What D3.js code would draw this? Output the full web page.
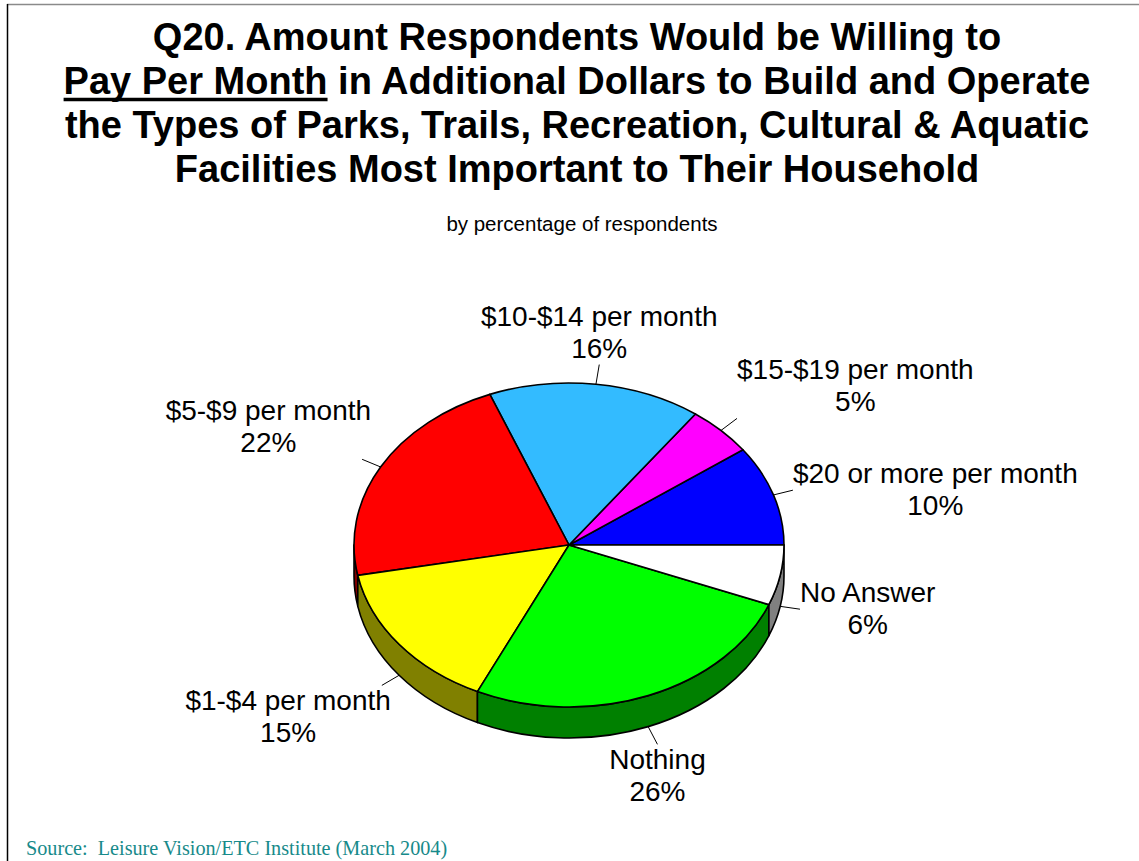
<!DOCTYPE html>
<html>
<head>
<meta charset="utf-8">
<script src="https://cdn.jsdelivr.net/npm/d3@7"></script>
<style>
  html, body { margin: 0; padding: 0; background: #ffffff; }
  svg { display: block; }
</style>
</head>
<body>
<svg id="chart" width="1139" height="861"></svg>
<script>
// Survey answers (Q20) and their share of respondents, in pie order
const categories = ["$20 or more per month", "$15-$19 per month", "$10-$14 per month",
                    "$5-$9 per month", "$1-$4 per month", "Nothing", "No Answer"];
const percents = [10, 5, 16, 22, 15, 26, 6];

const titleLines = [
  "Q20. Amount Respondents Would be Willing to",
  ["Pay Per Month", " in Additional Dollars to Build and Operate"],
  "the Types of Parks, Trails, Recreation, Cultural & Aquatic",
  "Facilities Most Important to Their Household"
];
const subtitle = "by percentage of respondents";
const sourceNote = "Source:  Leisure Vision/ETC Institute (March 2004)";

const W = 1139, H = 861;
const svg = d3.select("#chart");

// frame
svg.append("line").attr("x1", 7).attr("x2", W).attr("y1", 4.5).attr("y2", 4.5)
  .attr("stroke", "#8a8a8a").attr("stroke-width", 1.5);
svg.append("line").attr("x1", 7.5).attr("x2", 7.5).attr("y1", 4).attr("y2", H)
  .attr("stroke", "#000").attr("stroke-width", 1.5);

// title
const titleX = 577;
const sans = "'Liberation Sans', Arial, sans-serif";
const titleG = svg.append("g")
  .attr("font-family", sans).attr("font-weight", "bold")
  .attr("font-size", 38).attr("fill", "#000").attr("text-anchor", "middle");
titleLines.forEach((ln, i) => {
  const y = 50 + i * 44;
  const t = titleG.append("text").attr("x", titleX).attr("y", y);
  if (Array.isArray(ln)) {
    const first = t.append("tspan").text(ln[0]);
    t.append("tspan").text(ln[1]);
    // underline beneath the first phrase
    const bb = first.node().getBBox();
    titleG.append("line")
      .attr("x1", bb.x).attr("x2", bb.x + bb.width)
      .attr("y1", y + 5.5).attr("y2", y + 5.5)
      .attr("stroke", "#000").attr("stroke-width", 3.5);
  } else {
    t.text(ln);
  }
});

svg.append("text").attr("x", 582).attr("y", 231)
  .attr("text-anchor", "middle").attr("font-family", sans)
  .attr("font-size", 20.5).attr("fill", "#000").text(subtitle);

svg.append("text").attr("x", 26).attr("y", 855)
  .style("white-space", "pre")
  .attr("font-family", "'Liberation Serif', 'Times New Roman', serif")
  .attr("font-size", 20.2).attr("fill", "#178a8a").text(sourceNote);

// 3-D pie geometry
const cx = 569, cy = 545, rx = 215, ry = 162, depth = 31;

const faceColor = d3.scaleOrdinal().domain(categories)
  .range(["#0000ff", "#ff00ff", "#33bbff", "#ff0000", "#ffff00", "#00ff00", "#ffffff"]);
const sideColor = d3.scaleOrdinal().domain(categories)
  .range(["#000080", "#800080", "#1a5e80", "#800000", "#808000", "#008000", "#808080"]);

// angles measured counter-clockwise from 3 o'clock
const pie = d3.pie().sort(null).value(d => d.value).startAngle(0).endAngle(2 * Math.PI);
const data = pie(categories.map((c, i) => ({ name: c, value: percents[i] })));

const px = a => cx + rx * Math.cos(a);
const py = a => cy - ry * Math.sin(a);

function arcTo(a0, a1, dy, sweep) {
  const large = Math.abs(a1 - a0) > Math.PI ? 1 : 0;
  return `A ${rx} ${ry} 0 ${large} ${sweep} ${px(a1)} ${py(a1) + dy}`;
}

const pieG = svg.append("g").attr("stroke", "#000").attr("stroke-width", 1.6)
  .attr("stroke-linejoin", "round");

// front side walls (only the lower half of the rim is visible)
data.forEach(d => {
  const s = Math.max(d.startAngle, Math.PI), e = Math.min(d.endAngle, 2 * Math.PI);
  if (s >= e) return;
  const path = `M ${px(s)} ${py(s)} ${arcTo(s, e, 0, 0)} L ${px(e)} ${py(e) + depth} ` +
    `${arcTo(e, s, depth, 1)} Z`;
  pieG.append("path").attr("d", path).attr("fill", sideColor(d.data.name));
});

// top faces
data.forEach(d => {
  const path = `M ${cx} ${cy} L ${px(d.startAngle)} ${py(d.startAngle)} ` +
    `${arcTo(d.startAngle, d.endAngle, 0, 0)} Z`;
  pieG.append("path").attr("d", path).attr("fill", faceColor(d.data.name));
});

// labels with leader lines
const lblG = svg.append("g").attr("font-family", sans).attr("font-size", 28).attr("fill", "#000");
const leaderLen = 20, lineGap = 32;
data.forEach(d => {
  const a = (d.startAngle + d.endAngle) / 2;
  const c = Math.cos(a), s = Math.sin(a);
  const sx = px(a), sy = py(a) + (s < 0 ? depth : 0);
  const vx = rx * c, vy = -ry * s, n = Math.hypot(vx, vy);
  const ex = sx + vx / n * leaderLen, ey = sy + vy / n * leaderLen;
  lblG.append("line").attr("x1", sx).attr("y1", sy).attr("x2", ex).attr("y2", ey)
    .attr("stroke", "#000").attr("stroke-width", 1);

  let anchor = "middle", tx = ex;
  if (c > 0.4) { anchor = "start"; tx = ex; }
  else if (c < -0.4) { anchor = "end"; tx = ex + 9; }
  let b1;
  if (s > 0.4) b1 = ey - 7 - lineGap;
  else if (s < -0.4) b1 = ey + 25;
  else b1 = ey - 7;

  const t = lblG.append("text").attr("text-anchor", "middle");
  // center the two lines on a common axis
  const tmp = lblG.append("text").text(d.data.name);
  const w = tmp.node().getComputedTextLength();
  tmp.remove();
  const centerX = anchor === "start" ? tx + w / 2 : anchor === "end" ? tx - w / 2 : tx;
  t.append("tspan").attr("x", centerX).attr("y", b1).text(d.data.name);
  t.append("tspan").attr("x", centerX).attr("y", b1 + lineGap).text(d.data.value + "%");
});
</script>
</body>
</html>
